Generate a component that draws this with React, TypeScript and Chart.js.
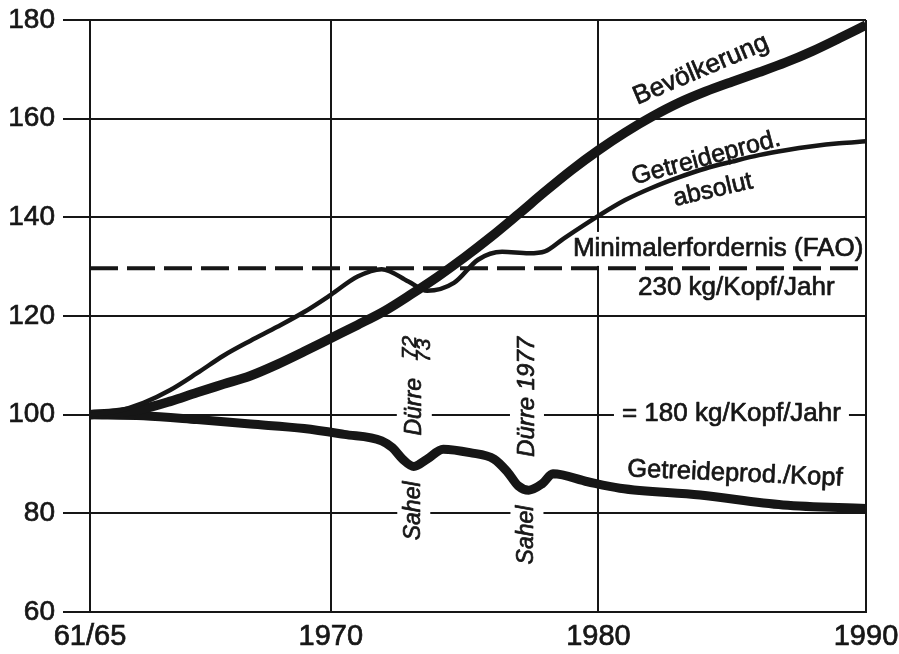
import React, { useEffect, useRef } from "react";
import { Chart, registerables } from "chart.js";

Chart.register(...registerables);

// ---- axis ticks ----
const xTicks = [1961, 1970, 1980, 1990];
const xTickLabels = ["61/65", "1970", "1980", "1990"];
const yTicks = [60, 80, 100, 120, 140, 160, 180];

// ---- Bevölkerung ----
const popYears = [1961, 1962, 1963, 1964, 1965, 1966, 1967, 1968, 1969, 1970, 1971, 1972, 1973, 1974, 1975, 1976, 1977, 1978, 1979, 1980, 1981, 1982, 1983, 1984, 1985, 1986, 1987, 1988, 1989, 1990];
const popValues = [100, 100.4, 101.2, 102.7, 104.5, 106.2, 107.9, 110.2, 112.8, 115.5, 118.2, 121.0, 124.4, 128.0, 131.9, 136.1, 140.6, 145.2, 149.6, 153.6, 157.2, 160.4, 163.2, 165.5, 167.5, 169.4, 171.4, 173.7, 176.3, 179.0];

// ---- Getreideprod. absolut ----
const grainYears = [1961, 1962, 1963, 1964, 1965, 1966, 1967, 1968, 1969, 1970, 1971, 1971.9, 1972.9, 1973.6, 1974.6, 1975.5, 1976.4, 1977.4, 1978, 1978.7, 1980, 1981, 1982, 1983, 1984, 1985, 1986, 1987, 1988, 1989, 1990];
const grainValues = [100, 100.7, 102.4, 105.0, 108.4, 112.0, 115.0, 117.8, 120.8, 124.3, 128.0, 129.5, 127.0, 125.1, 126.7, 131.4, 133.0, 132.7, 133.1, 135.7, 140.3, 143.5, 146.0, 148.1, 149.9, 151.3, 152.6, 153.6, 154.4, 155.0, 155.4];

// ---- Getreideprod./Kopf ----
const perCapYears = [1961, 1963, 1965, 1967, 1969, 1970.5, 1971.9, 1972.3, 1972.7, 1973.1, 1973.6, 1974.2, 1975.2, 1976.1, 1976.6, 1977.0, 1977.4, 1977.9, 1978.3, 1979.6, 1980.8, 1983.8, 1986.9, 1990];
const perCapValues = [100, 99.8, 99.0, 98.1, 97.2, 96.0, 94.7, 93.3, 90.9, 89.5, 91.0, 93.0, 92.3, 91.0, 88.4, 85.6, 84.7, 86.0, 88.0, 86.4, 85.1, 83.7, 81.7, 81.0];

// ---- Minimalerfordernis (FAO) ----
const faoYears = [1961, 1990];
const faoValues = [129.7, 129.7];

const INK = "#161616";
const FONT = "'Liberation Sans', Arial, Helvetica, sans-serif";
const TEXT_STROKE = 0.7;

type Label = {
  text: string;
  year: number;
  value: number;
  angle: number;
  size: number;
  italic?: boolean;
  align?: "left" | "center" | "right";
  padX?: number;
  padY?: number;
};

const labels: Label[] = [
  { text: "Bevölkerung", year: 1983.83, value: 169.9, angle: -23, size: 26 },
  { text: "Getreideprod.", year: 1984.02, value: 152.0, angle: -15, size: 25 },
  { text: "absolut", year: 1984.28, value: 145.5, angle: -13, size: 25 },
  { text: "Minimalerfordernis (FAO)", year: 1989.9, value: 133.6, angle: 0, size: 26, align: "right", padX: 6, padY: 4 },
  { text: "230 kg/Kopf/Jahr", year: 1981.48, value: 125.7, angle: 0, size: 26, align: "left" },
  { text: "= 180 kg/Kopf/Jahr", year: 1980.88, value: 100.2, angle: 0, size: 26, align: "left", padX: 8, padY: 4 },
  { text: "Getreideprod./Kopf", year: 1985.1, value: 88.0, angle: 2.5, size: 25.5 },
  { text: "Dürre", year: 1973.12, value: 101.6, angle: -90, size: 23, italic: true, padX: 8, padY: 6 },
  { text: "72", year: 1972.98, value: 113.6, angle: -90, size: 21, italic: true },
  { text: "73", year: 1973.47, value: 113.0, angle: -90, size: 21, italic: true },
  { text: "Sahel", year: 1973.1, value: 80.5, angle: -90, size: 23, italic: true, padX: 8, padY: 5 },
  { text: "Dürre 1977", year: 1977.33, value: 103.6, angle: -90, size: 24, italic: true, padX: 8, padY: 5 },
  { text: "Sahel", year: 1977.33, value: 75.6, angle: -90, size: 23, italic: true, padX: 8, padY: 5 },
];

function drawLabels(chart: any, bgPass: boolean) {
  const { ctx, chartArea } = chart;
  const xs = chart.scales.x;
  const ys = chart.scales.y;
  for (const a of labels) {
    const px = xs.getPixelForValue(a.year);
    const py = ys.getPixelForValue(a.value);
    const align = a.align || "center";
    ctx.save();
    ctx.font = `${a.italic ? "italic " : ""}${a.size}px ${FONT}`;
    if (bgPass) {
      if (a.padX != null) {
        const w = ctx.measureText(a.text).width;
        const x0 = align === "left" ? 0 : align === "right" ? -w : -w / 2;
        const py2 = a.padY || 0;
        ctx.fillStyle = "#ffffff";
        if (a.angle === 0) {
          let l = px + x0 - a.padX;
          let r = px + x0 + w + a.padX;
          l = Math.max(l, chartArea.left + 2);
          r = Math.min(r, chartArea.right - 2);
          ctx.fillRect(l, py - a.size / 2 - py2, r - l, a.size + 2 * py2);
        } else {
          ctx.translate(px, py);
          ctx.rotate((a.angle * Math.PI) / 180);
          ctx.fillRect(x0 - a.padX, -a.size / 2 - py2, w + 2 * a.padX, a.size + 2 * py2);
        }
      }
    } else {
      ctx.translate(px, py);
      ctx.rotate((a.angle * Math.PI) / 180);
      ctx.textAlign = align;
      ctx.textBaseline = "middle";
      ctx.fillStyle = INK;
      ctx.strokeStyle = INK;
      ctx.lineWidth = TEXT_STROKE;
      ctx.lineJoin = "round";
      ctx.strokeText(a.text, 0, 0);
      ctx.fillText(a.text, 0, 0);
    }
    ctx.restore();
  }
}

const labelPlugin = {
  id: "chartLabels",
  beforeDatasetsDraw(chart: any) {
    drawLabels(chart, true);
  },
  afterDatasetsDraw(chart: any) {
    drawLabels(chart, false);
  },
};

const toPoints = (xs: number[], ys: number[]) => xs.map((x, i) => ({ x, y: ys[i] }));

export default function App() {
  const ref = useRef<HTMLCanvasElement | null>(null);

  useEffect(() => {
    document.body.style.margin = "0";
    document.body.style.background = "#ffffff";
    const canvas = ref.current;
    if (!canvas) return;
    const chart = new Chart(canvas, {
      type: "line",
      data: {
        datasets: [
          {
            label: "Minimalerfordernis (FAO)",
            data: toPoints(faoYears, faoValues),
            borderColor: INK,
            borderWidth: 4,
            borderDash: [28, 9],
            pointRadius: 0,
            fill: false,
          },
          {
            label: "Getreideprod. absolut",
            data: toPoints(grainYears, grainValues),
            borderColor: INK,
            borderWidth: 4.5,
            pointRadius: 0,
            cubicInterpolationMode: "monotone",
            fill: false,
          },
          {
            label: "Bevölkerung",
            data: toPoints(popYears, popValues),
            borderColor: INK,
            borderWidth: 9.5,
            pointRadius: 0,
            cubicInterpolationMode: "monotone",
            fill: false,
          },
          {
            label: "Getreideprod./Kopf",
            data: toPoints(perCapYears, perCapValues),
            borderColor: INK,
            borderWidth: 9,
            pointRadius: 0,
            cubicInterpolationMode: "monotone",
            fill: false,
          },
        ],
      },
      options: {
        responsive: false,
        animation: false,
        events: [],
        layout: { padding: { top: 20, right: 33, left: 0, bottom: 0 } },
        plugins: {
          legend: { display: false },
          tooltip: { enabled: false },
          title: { display: false },
        },
        scales: {
          x: {
            type: "linear",
            min: 1961,
            max: 1990,
            afterBuildTicks: (s: any) => {
              s.ticks = xTicks.map((v) => ({ value: v }));
            },
            afterFit: (s: any) => {
              s.height = 42;
              s.paddingLeft = 0;
              s.paddingRight = 0;
            },
            grid: { color: INK, lineWidth: 2, drawTicks: false },
            border: { color: INK, width: 2 },
            ticks: {
              padding: 8,
              color: INK,
              textStrokeColor: INK,
              textStrokeWidth: TEXT_STROKE,
              font: { family: FONT, size: 29 },
              maxRotation: 0,
              autoSkip: false,
              callback: (_v: any, i: number) => xTickLabels[i],
            },
          },
          y: {
            type: "linear",
            min: 60,
            max: 180,
            afterBuildTicks: (s: any) => {
              s.ticks = yTicks.map((v) => ({ value: v }));
            },
            afterFit: (s: any) => {
              s.width = 90;
              s.paddingTop = 0;
              s.paddingBottom = 0;
            },
            grid: { color: INK, lineWidth: 2, tickLength: 27 },
            border: { color: INK, width: 2 },
            ticks: {
              padding: 8,
              color: INK,
              textStrokeColor: INK,
              textStrokeWidth: TEXT_STROKE,
              font: { family: FONT, size: 28 },
            },
          },
        },
      },
      plugins: [labelPlugin],
    } as any);
    return () => chart.destroy();
  }, []);

  return (
    <div style={{ width: 899, height: 654, background: "#ffffff" }}>
      <canvas ref={ref} width={899} height={654} style={{ display: "block" }} />
    </div>
  );
}
